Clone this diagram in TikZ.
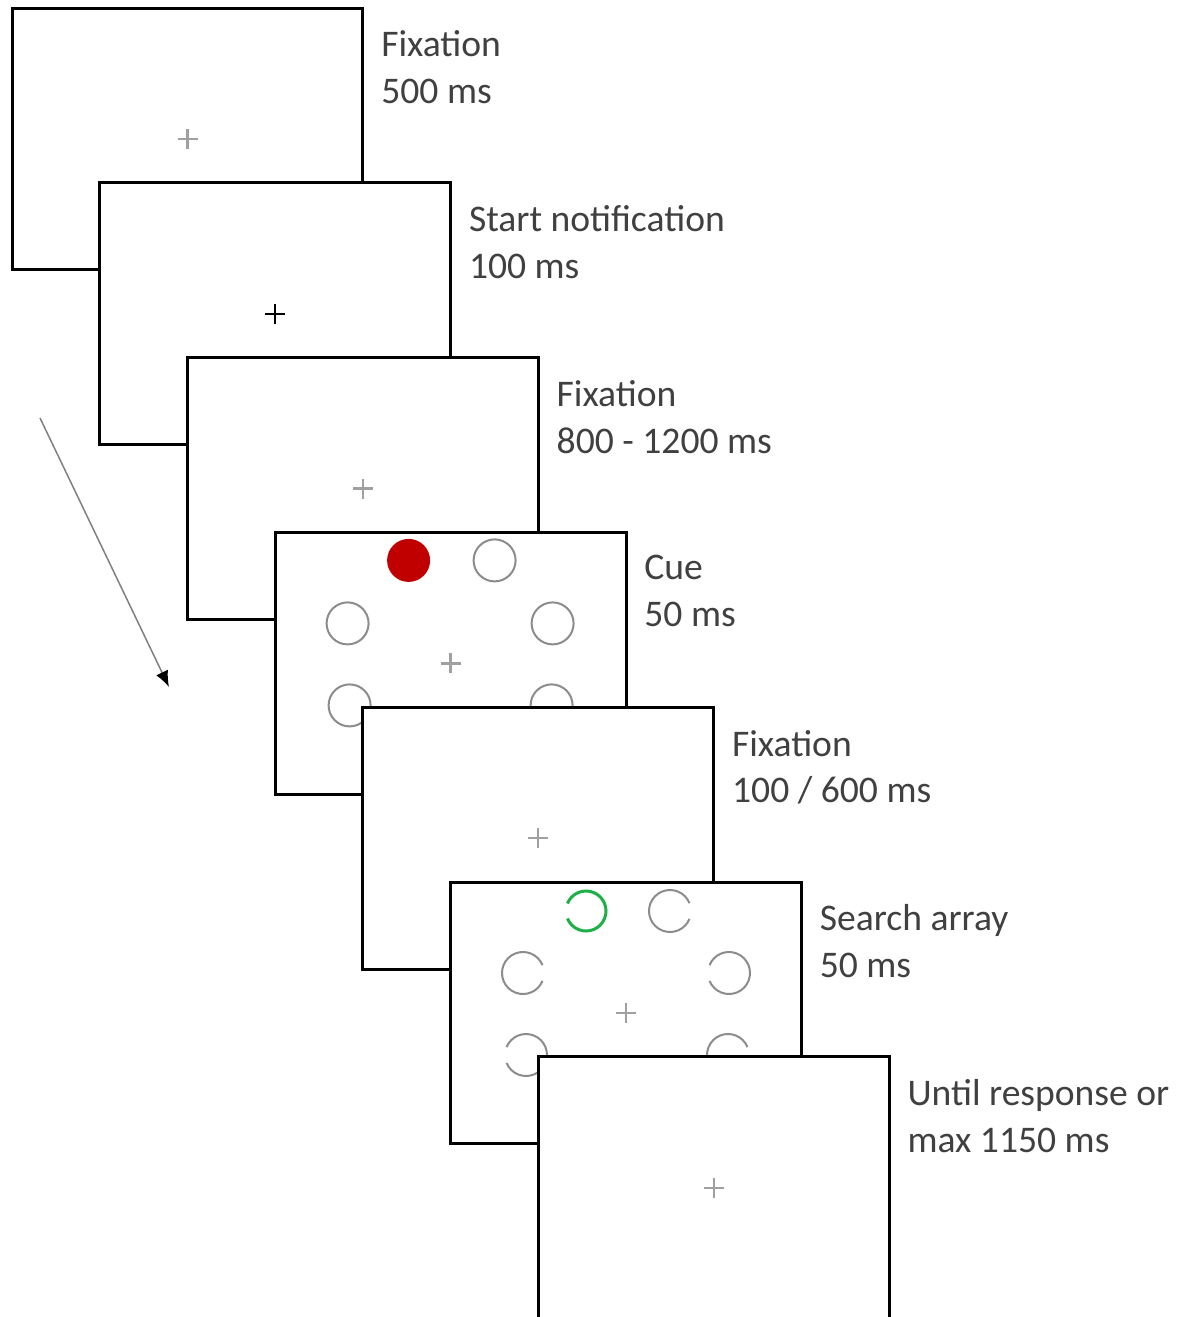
\documentclass[tikz,border=0pt]{standalone}
\usepackage{fontspec}
\setmainfont{Carlito}
\usetikzlibrary{positioning,arrows.meta}

\definecolor{txtgray}{RGB}{64,64,64}
\definecolor{crossgray}{RGB}{160,160,160}
\definecolor{ringgray}{RGB}{140,140,140}
\definecolor{cuered}{RGB}{192,0,0}
\definecolor{targetgreen}{RGB}{30,176,70}

% stimuli of the cue screen (one filled disc, five rings)
\newcommand{\cuestimuli}[1]{%
  \fill[cuered] (#1.center) ++(-42,-103) circle[radius=21.5];
  \foreach \dx/\dy in {44/-103,-103/-40,102/-40,-101/42,101/42}
    \draw[ring] (#1.center) ++(\dx,\dy) circle[radius=21];
}
% stimuli of the search array (rings with a gap, \o = side of the gap)
\newcommand{\searchstimuli}[1]{%
  \draw[target] (#1.center) ++(-40,-102) ++(202:20) arc[start angle=202, end angle=518, radius=20];
  \foreach \dx/\dy/\o in {44/-102/0,-103/-40/0,103/-40/180,-100/42/180,102/42/0}
    \draw[ring] (#1.center) ++(\dx,\dy) ++({\o+22}:21) arc[start angle={\o+22}, end angle={\o+338}, radius=21];
}

\begin{document}
\begin{tikzpicture}[x=0.02cm, y=-0.02cm,
    screen/.style={draw, line width=0.06cm, fill=white,
      minimum width=7.02cm, minimum height=5.24cm, inner sep=0pt, outer sep=0pt},
    fixcross/.style={draw=crossgray, line width=0.045cm},
    caption/.style={align=left, inner sep=0pt, text=txtgray,
      font=\fontsize{21.4}{26.5}\selectfont, anchor=north west},
    ring/.style={draw=ringgray, line width=0.04cm},
    target/.style={draw=targetgreen, line width=0.06cm},
    flow/.style={draw=gray, line width=0.03cm, -{Latex[black,length=0.32cm,width=0.26cm]}}]
  \clip (0,0) rectangle (1196,1317);

  % time arrow
  \coordinate (flow top) at (40,418);
  \coordinate (flow tip) at (169,687);
  \draw[flow] (flow top) -- (flow tip);

  % screens, one after the other
  \foreach \i/\crs/\first/\second in {
      1/crossgray/Fixation/500 ms,
      2/black/Start notification/100 ms,
      3/crossgray/Fixation/800 - 1200 ms,
      4/crossgray/Cue/50 ms,
      5/crossgray/Fixation/{100 / 600 ms},
      6/crossgray/Search array/50 ms,
      7/crossgray/Until response or/max 1150 ms}
  {
    \node[screen] (s\i) at ({187.5+87.7*(\i-1)},{139+174.8*(\i-1)}) {};
    \draw[fixcross, draw=\crs] (s\i.center) ++(-10,0) -- ++(20,0)
      (s\i.center) ++(0,-10) -- ++(0,20);
    \node[caption, below right=0.45cm and 0.36cm of s\i.north east] (t\i) {\first\\\second};
    \ifnum\i=4 \cuestimuli{s4}\fi
    \ifnum\i=6 \searchstimuli{s6}\fi
  }
\end{tikzpicture}
\end{document}
